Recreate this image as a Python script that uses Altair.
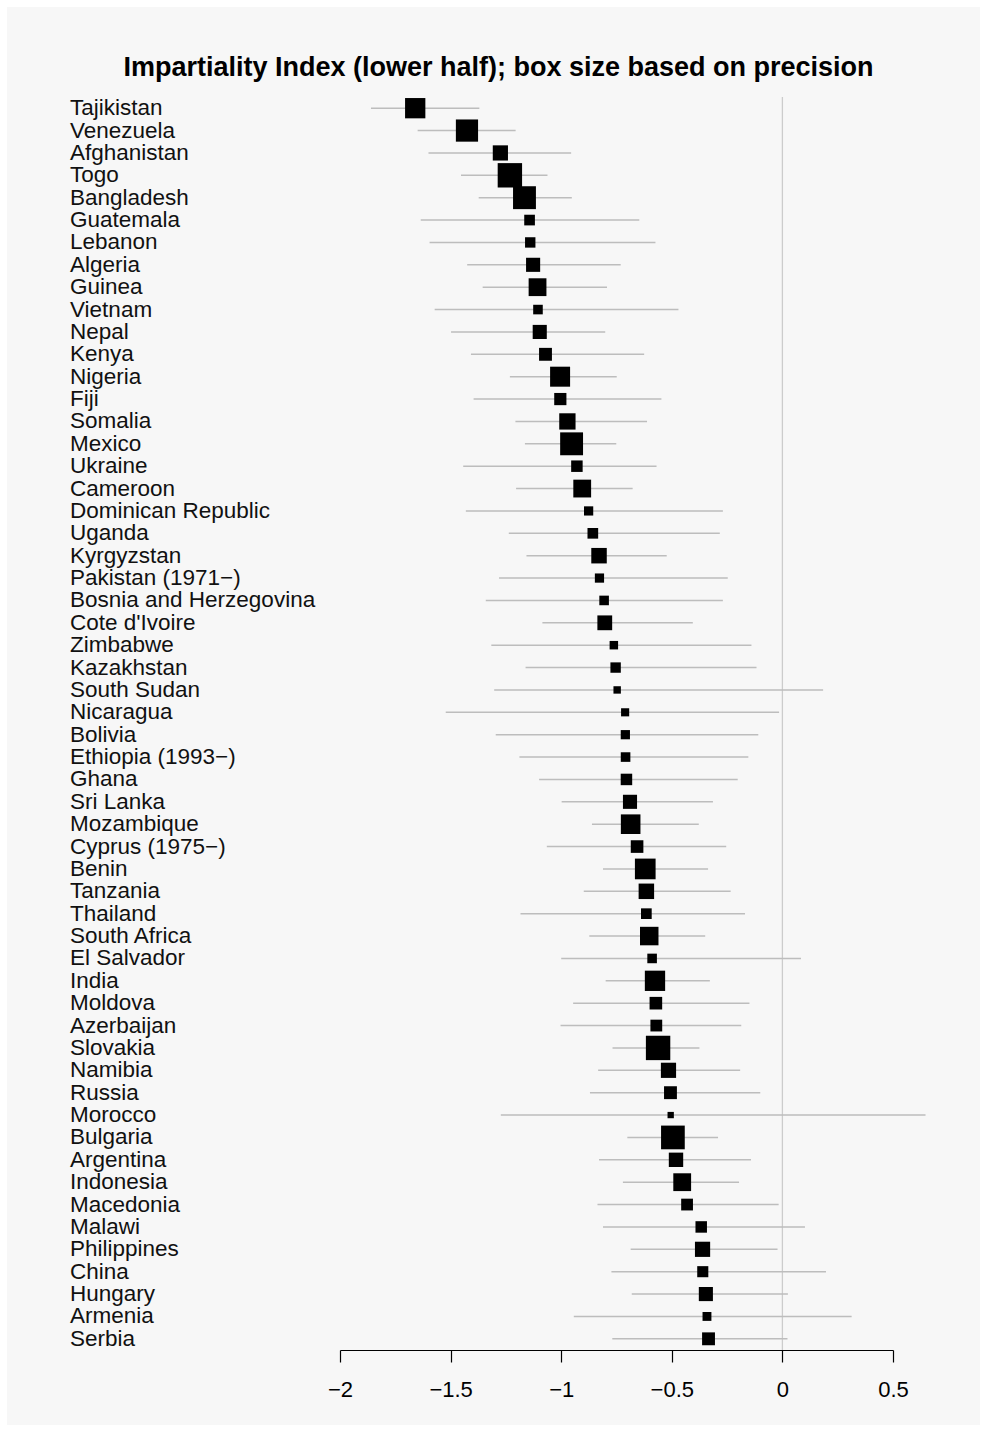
import altair as alt
import pandas as pd

countries = [
    "Tajikistan", "Venezuela", "Afghanistan", "Togo", "Bangladesh", "Guatemala",
    "Lebanon", "Algeria", "Guinea", "Vietnam", "Nepal", "Kenya", "Nigeria", "Fiji",
    "Somalia", "Mexico", "Ukraine", "Cameroon", "Dominican Republic", "Uganda",
    "Kyrgyzstan", "Pakistan (1971\u2212)", "Bosnia and Herzegovina", "Cote d'Ivoire",
    "Zimbabwe", "Kazakhstan", "South Sudan", "Nicaragua", "Bolivia", "Ethiopia (1993\u2212)",
    "Ghana", "Sri Lanka", "Mozambique", "Cyprus (1975\u2212)", "Benin", "Tanzania",
    "Thailand", "South Africa", "El Salvador", "India", "Moldova", "Azerbaijan",
    "Slovakia", "Namibia", "Russia", "Morocco", "Bulgaria", "Argentina", "Indonesia",
    "Macedonia", "Malawi", "Philippines", "China", "Hungary", "Armenia", "Serbia",
]

estimate = [
    -1.660, -1.426, -1.275, -1.232, -1.166, -1.143, -1.140, -1.127, -1.107, -1.105,
    -1.097, -1.071, -1.005, -1.004, -0.972, -0.953, -0.929, -0.905, -0.876, -0.857,
    -0.829, -0.827, -0.806, -0.803, -0.762, -0.754, -0.747, -0.711, -0.710, -0.709,
    -0.705, -0.689, -0.686, -0.657, -0.620, -0.615, -0.615, -0.602, -0.589, -0.576,
    -0.572, -0.570, -0.562, -0.515, -0.506, -0.505, -0.495, -0.481, -0.453, -0.431,
    -0.367, -0.361, -0.360, -0.346, -0.341, -0.334,
]

lower = [
    -1.860, -1.649, -1.600, -1.453, -1.373, -1.635, -1.595, -1.425, -1.355, -1.572,
    -1.498, -1.408, -1.232, -1.396, -1.207, -1.164, -1.443, -1.204, -1.431, -1.237,
    -1.157, -1.281, -1.341, -1.085, -1.316, -1.161, -1.303, -1.522, -1.296, -1.189,
    -1.100, -0.998, -0.861, -1.065, -0.811, -0.898, -1.184, -0.873, -1.000, -0.799,
    -0.946, -1.003, -0.768, -0.833, -0.870, -1.273, -0.701, -0.829, -0.721, -0.836,
    -0.811, -0.686, -0.773, -0.681, -0.943, -0.769,
]

upper = [
    -1.370, -1.206, -0.955, -1.062, -0.952, -0.647, -0.574, -0.731, -0.793, -0.470,
    -0.801, -0.625, -0.749, -0.547, -0.612, -0.751, -0.569, -0.677, -0.269, -0.283,
    -0.523, -0.247, -0.269, -0.405, -0.140, -0.117, 0.184, -0.015, -0.109, -0.154,
    -0.202, -0.314, -0.378, -0.254, -0.336, -0.234, -0.169, -0.349, 0.084, -0.328,
    -0.149, -0.186, -0.375, -0.191, -0.100, 0.647, -0.291, -0.142, -0.196, -0.017,
    0.102, -0.022, 0.197, 0.025, 0.313, 0.023,
]

precision = [
    4.12, 4.93, 2.31, 5.95, 5.24, 1.14, 1.08, 1.99, 3.17, 0.92,
    1.99, 1.66, 4.00, 1.49, 2.66, 5.24, 1.32, 3.17, 0.85, 1.14,
    2.40, 0.85, 0.92, 2.19, 0.72, 1.08, 0.55, 0.66, 0.85, 0.92,
    1.32, 1.99, 3.84, 1.59, 4.28, 2.40, 1.14, 3.42, 0.92, 4.12,
    1.59, 1.39, 5.95, 2.31, 1.66, 0.40, 5.62, 2.07, 3.17, 1.39,
    1.32, 2.31, 1.23, 1.99, 0.79, 1.66,
]

x_ticks = [-2, -1.5, -1, -0.5, 0, 0.5]
title_text = "Impartiality Index (lower half); box size based on precision"

df = pd.DataFrame({
    "country": countries,
    "estimate": estimate,
    "lower": lower,
    "upper": upper,
    "precision": precision,
})

FONT = "Liberation Sans"
W, H = 553, 1253

x_scale = alt.Scale(domain=[-2, 0.5], nice=False, zero=False)
y_enc = alt.Y("country:N", sort=countries,
              scale=alt.Scale(type="point", padding=0.5), axis=None)

panel = alt.Chart(pd.DataFrame({"p": [0]})).mark_rect(color="#f7f7f7").encode(
    x=alt.value(-333), x2=alt.value(640), y=alt.value(-90), y2=alt.value(1328)
)

zero_line = alt.Chart(pd.DataFrame({"zero": [0]})).mark_rule(
    color="#cccccc", strokeWidth=1.3
).encode(
    x=alt.X("zero:Q", scale=x_scale,
            axis=alt.Axis(values=x_ticks, format="~g", title=None, grid=False,
                          domainColor="black", domainWidth=1.2, tickColor="black",
                          tickWidth=1.2, tickSize=12, labelFontSize=22, labelFont=FONT,
                          labelColor="black", labelPadding=17, labelFlush=False,
                          labelOverlap=False, zindex=2))
)

ci = alt.Chart(df).mark_rule(color="#bdbdbd", strokeWidth=1.6).encode(
    x=alt.X("lower:Q", scale=x_scale),
    x2="upper:Q",
    y=y_enc,
)

boxes = alt.Chart(df).mark_square(color="black", opacity=1, filled=True).encode(
    x=alt.X("estimate:Q", scale=x_scale),
    y=y_enc,
    size=alt.Size("precision:Q", scale=alt.Scale(type="linear", domain=[0, 6], range=[0, 600]),
                  legend=None),
)

labels = alt.Chart(df).mark_text(
    align="left", baseline="middle", font=FONT, fontSize=22.5, color="#111111"
).encode(
    x=alt.value(-270),
    y=y_enc,
    text="country:N",
)

chart = alt.layer(panel, zero_line, ci, boxes, labels).properties(
    width=W,
    height=H,
    padding={"left": 340, "top": 97, "right": 94, "bottom": 80},
    autosize=alt.AutoSizeParams(type="none"),
    background="white",
    title=alt.TitleParams(
        text=title_text, font=FONT, fontSize=27, fontWeight="bold", color="black",
        anchor="middle", frame="group", dx=-118, offset=-96, baseline="alphabetic",
    ),
).configure_view(stroke=None)

chart.save("out.html", embed_options={"renderer": "svg", "actions": False})
